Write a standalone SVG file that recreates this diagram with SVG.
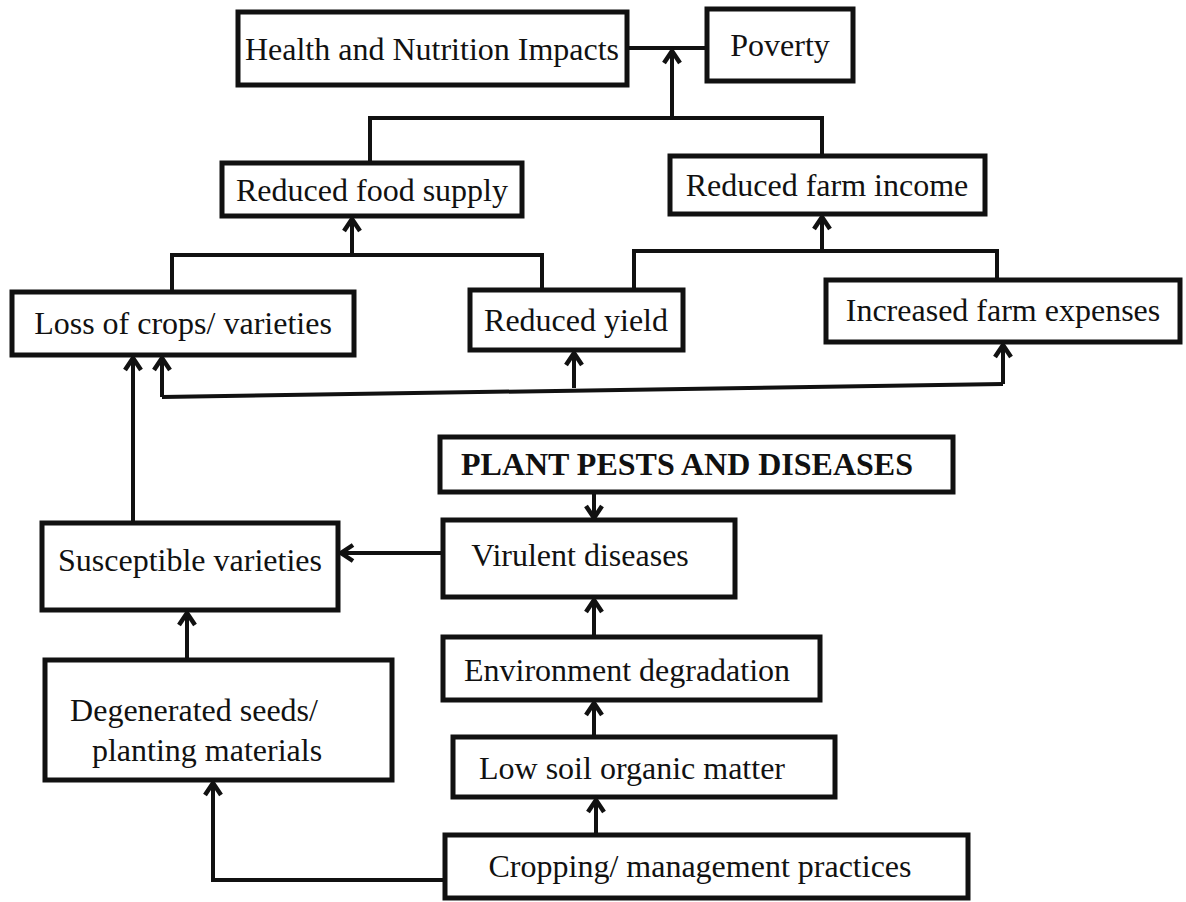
<svg xmlns="http://www.w3.org/2000/svg" width="1186" height="902" viewBox="0 0 1186 902">
<style>
.box{fill:#fff;stroke:#111;stroke-width:5}
.t{font-family:"Liberation Serif","Times New Roman",serif;font-size:32px;fill:#111;text-anchor:middle}
.b{font-weight:bold}
.c{fill:none;stroke:#111;stroke-width:4;stroke-linejoin:miter}
.a{fill:none;stroke:#111;stroke-width:4;marker-end:url(#ah)}
</style>
<defs>
<marker id="ah" viewBox="0 0 24 24" refX="19" refY="12" markerWidth="24" markerHeight="24" markerUnits="userSpaceOnUse" orient="auto">
<path d="M7,4 L19,12 L7,20" fill="none" stroke="#111" stroke-width="4.5"/>
</marker>
</defs>
<rect width="1186" height="902" fill="#fff"/>
<g id="connectors">
<path class="c" d="M627,48 H707"/>
<path class="a" d="M672,118 V51"/>
<path class="c" d="M370,165 V118 H822 V157"/>
<path class="a" d="M352,255 V219"/>
<path class="c" d="M172,292 V255 H542 V290"/>
<path class="a" d="M822,251 V217"/>
<path class="c" d="M634,290 V251 H997 V280"/>
<path class="c" d="M162,397 L1003,384"/>
<path class="a" d="M574,388 V353"/>
<path class="a" d="M1003,384 V345"/>
<path class="a" d="M162,397 V358"/>
<path class="a" d="M133,523 V358"/>
<path class="a" d="M594,492 V518"/>
<path class="a" d="M443,553 H341"/>
<path class="a" d="M187,660 V613"/>
<path class="a" d="M594,637 V600"/>
<path class="a" d="M594,737 V703"/>
<path class="a" d="M596,835 V800"/>
<path class="a" d="M445,880 H213 V783"/>
</g>
<g id="n_health"><rect class="box" x="238" y="12" width="389" height="73"/><text class="t" x="432" y="60">Health and Nutrition Impacts</text></g>
<g id="n_poverty"><rect class="box" x="707" y="9" width="146" height="72"/><text class="t" x="780" y="56">Poverty</text></g>
<g id="n_food"><rect class="box" x="222" y="163" width="300" height="53"/><text class="t" x="372" y="201">Reduced food supply</text></g>
<g id="n_income"><rect class="box" x="670" y="156" width="315" height="58"/><text class="t" x="827" y="196">Reduced farm income</text></g>
<g id="n_loss"><rect class="box" x="12" y="292" width="342" height="63"/><text class="t" x="183" y="334">Loss of crops/ varieties</text></g>
<g id="n_yield"><rect class="box" x="470" y="290" width="213" height="60"/><text class="t" x="576" y="331">Reduced yield</text></g>
<g id="n_expenses"><rect class="box" x="826" y="280" width="354" height="62"/><text class="t" x="1003" y="321">Increased farm expenses</text></g>
<g id="n_pests"><rect class="box" x="440" y="437" width="513" height="55"/><text class="t b" x="687" y="475">PLANT PESTS AND DISEASES</text></g>
<g id="n_virulent"><rect class="box" x="443" y="520" width="292" height="77"/><text class="t" x="580" y="566">Virulent diseases</text></g>
<g id="n_susceptible"><rect class="box" x="42" y="523" width="296" height="87"/><text class="t" x="190" y="571">Susceptible varieties</text></g>
<g id="n_degenerated"><rect class="box" x="45" y="660" width="347" height="120"/><text class="t" x="194" y="721">Degenerated seeds/</text><text class="t" x="207" y="761">planting materials</text></g>
<g id="n_env"><rect class="box" x="443" y="637" width="377" height="63"/><text class="t" x="627" y="681">Environment degradation</text></g>
<g id="n_soil"><rect class="box" x="453" y="737" width="382" height="60"/><text class="t" x="632" y="779">Low soil organic matter</text></g>
<g id="n_crop"><rect class="box" x="445" y="835" width="523" height="63"/><text class="t" x="700" y="877">Cropping/ management practices</text></g>
</svg>
